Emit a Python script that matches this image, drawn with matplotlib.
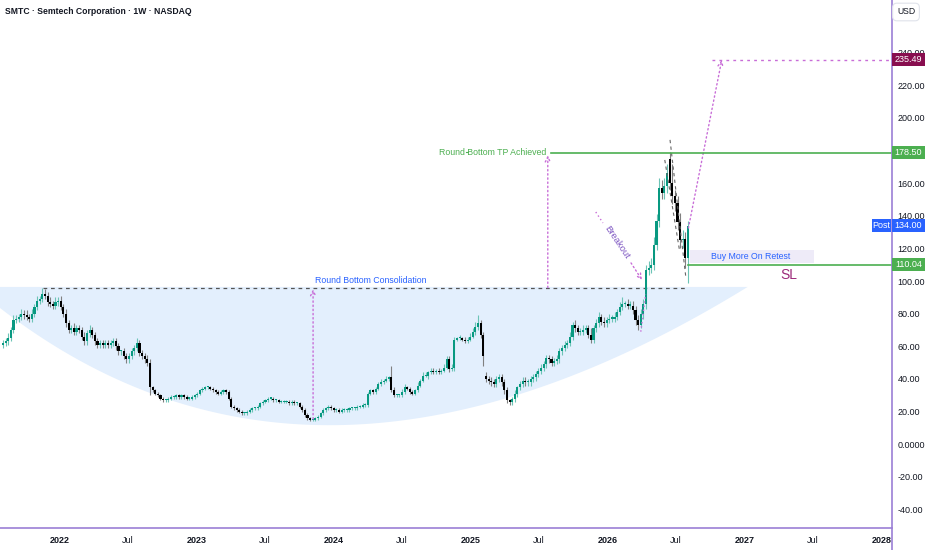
import numpy as np
import pandas as pd
import matplotlib
matplotlib.use("Agg")
import matplotlib.pyplot as plt
import matplotlib.dates as mdates
from matplotlib.patches import Rectangle, Polygon
from matplotlib.lines import Line2D
from matplotlib import transforms

plt.rcParams['font.family'] = ['Liberation Sans', 'DejaVu Sans']

# weekly closes (first candle week of 2021-08-02)
closes = [
    62, 63, 65, 70, 76, 77, 78, 80, 79, 78, 77, 80, 84, 88, 89, 92, 91, 87, 86, 85,
    87, 88, 84, 80, 74, 70, 71, 69, 71, 70, 66, 63, 68, 70, 67, 63, 61, 62, 61, 62,
    61, 62, 63, 60, 57, 57, 54, 52, 54, 57, 59, 62, 56, 54, 52, 50, 35, 33, 31, 30,
    28, 27, 27, 28, 29, 29, 30, 29, 30, 29, 28, 28, 29, 30, 31, 33, 34, 35, 35, 34,
    33, 32, 31, 32, 33, 32, 28, 23, 22, 21, 20, 19, 19, 20, 21, 22, 22, 23, 25, 26,
    27, 28, 28, 27, 27, 26, 26, 26, 26, 25, 26, 25, 25, 23, 21, 18, 16, 15, 15, 16,
    17, 19, 21, 22, 23, 22, 21, 21, 20, 21, 21, 21, 22, 22, 22, 23, 23, 24, 24, 31,
    33, 32, 34, 37, 38, 39, 40, 41, 33, 30, 30, 30, 32, 35, 34, 32, 31, 33, 36, 39,
    42, 42, 44, 45, 44, 45, 44, 45, 47, 52, 46, 47, 64, 65, 65, 64, 63, 64, 66, 69,
    72, 74, 67, 54, 40, 39, 38, 37, 40, 41, 38, 33, 27, 26, 28, 31, 35, 37, 39, 38,
    38, 40, 41, 43, 45, 47, 49, 53, 52, 50, 51, 52, 57, 59, 61, 62, 66, 73, 71, 69,
    69, 70, 71, 67, 64, 71, 74, 78, 75, 74, 76, 77, 77, 78, 81, 84, 86, 86, 85, 85,
    82, 76, 73, 80, 86, 107, 108, 110, 122, 137, 157, 154, 158, 166, 160, 152, 148, 136, 125, 126,
    114, 134,
]
up_wick = [
    2, 2, 3, 2, 3, 2, 2, 3, 2, 3, 2, 3, 2, 3, 2, 4, 3, 2, 3, 2,
    3, 2, 3, 2, 3, 2, 2, 3, 2, 2, 2, 3, 2, 3, 2, 2, 2, 2, 2, 2,
    2, 2, 2, 2, 2, 1, 2, 2, 2, 2, 2, 3, 2, 2, 2, 3, 2, 1, 1, 1,
    1, 1, 1, 1, 1, 1, 1, 1, 1, 1, 1, 1, 1, 1, 1, 1, 1, 1, 1, 1,
    1, 1, 1, 1, 1, 1, 1, 1, 1, 1, 1, 1, 1, 1, 1, 1, 1, 1, 1, 1,
    1, 1, 1, 1, 1, 1, 1, 1, 1, 1, 1, 1, 1, 1, 1, 1, 1, 1, 1, 1,
    1, 1, 1, 1, 1, 1, 1, 1, 1, 1, 1, 1, 1, 1, 1, 1, 1, 1, 1, 1,
    1, 1, 1, 1, 2, 1, 2, 1, 7, 2, 1, 1, 2, 2, 1, 1, 1, 1, 2, 1,
    2, 2, 1, 2, 2, 1, 2, 1, 2, 2, 2, 2, 2, 1, 2, 1, 2, 2, 2, 2,
    3, 5, 2, 2, 2, 2, 2, 2, 2, 2, 2, 2, 2, 1, 1, 2, 1, 2, 2, 2,
    2, 2, 2, 2, 2, 2, 2, 2, 2, 2, 2, 3, 2, 2, 2, 2, 3, 2, 3, 2,
    2, 3, 2, 2, 4, 2, 3, 3, 2, 3, 2, 3, 2, 3, 2, 3, 4, 2, 3, 3,
    3, 3, 3, 3, 3, 3, 4, 4, 5, 4, 6, 5, 5, 6, 4, 12, 4, 4, 6, 5,
    4, 3,
]
down_wick = [
    2, 2, 2, 2, 2, 2, 2, 2, 2, 2, 2, 2, 2, 2, 2, 2, 2, 2, 2, 2,
    2, 2, 2, 2, 2, 2, 2, 2, 2, 2, 2, 2, 2, 2, 2, 2, 2, 2, 2, 2,
    2, 2, 2, 2, 2, 2, 2, 2, 2, 2, 2, 2, 2, 2, 2, 2, 5, 1, 1, 1,
    1, 1, 1, 1, 1, 1, 1, 1, 1, 1, 1, 1, 1, 1, 1, 1, 1, 1, 1, 1,
    1, 1, 1, 1, 1, 1, 1, 1, 1, 1, 1, 1, 1, 1, 1, 1, 1, 1, 1, 1,
    1, 1, 1, 1, 1, 1, 1, 1, 1, 1, 1, 1, 1, 1, 1, 1, 1, 1, 1, 1,
    1, 1, 1, 1, 1, 1, 1, 1, 1, 1, 1, 1, 1, 1, 1, 1, 1, 1, 1, 1,
    1, 1, 1, 1, 1, 1, 1, 1, 1, 1, 1, 1, 1, 1, 1, 1, 1, 1, 1, 1,
    1, 1, 2, 1, 1, 1, 1, 1, 1, 1, 2, 1, 2, 1, 1, 1, 1, 1, 1, 1,
    2, 2, 2, 6, 2, 2, 2, 2, 2, 2, 2, 2, 2, 2, 2, 2, 2, 2, 2, 2,
    2, 2, 2, 2, 2, 2, 2, 2, 2, 2, 2, 2, 2, 2, 2, 2, 2, 2, 2, 2,
    2, 2, 2, 2, 2, 2, 2, 2, 2, 2, 2, 2, 2, 2, 2, 2, 2, 2, 2, 2,
    2, 3, 3, 2, 3, 3, 3, 3, 3, 3, 4, 4, 4, 4, 4, 5, 5, 5, 5, 5,
    6, 15,
]
first_open = 61
gap_opens = {184: 42, 254: 175}

tp_level = 178.50
target_level = 235.49
sl_level = 110.04
last_price = 134.00
neck_level = 96

ytick_vals = [-40, -20, 0, 20, 40, 60, 80, 100, 120, 140, 160, 200, 220, 240]
xtick_dates = ['2022-01-01', '2022-07-01', '2023-01-01', '2023-07-01', '2024-01-01',
               '2024-07-01', '2025-01-01', '2025-07-01', '2026-01-01', '2026-07-01',
               '2027-01-01', '2027-07-01', '2028-01-01']
xtick_labels = ['2022', 'Jul', '2023', 'Jul', '2024', 'Jul', '2025', 'Jul', '2026', 'Jul',
                '2027', 'Jul', '2028']

dates = pd.date_range('2021-08-02', periods=len(closes), freq='7D')
xs = mdates.date2num(dates)
c = np.array(closes, float)
o = np.r_[first_open, c[:-1]]
for k, v in gap_opens.items():
    o[k] = v
hi = np.maximum(o, c) + np.array(up_wick)
lo = np.minimum(o, c) - np.array(down_wick)
up = c >= o

def d(s):
    return mdates.date2num(pd.Timestamp(s))

fig = plt.figure(figsize=(9.32, 5.5), dpi=100)
fig.patch.set_facecolor('white')
ax = fig.add_axes([0, 22 / 550, 892 / 932, 528 / 550])
ax.set_xlim(d('2021-07-25'), d('2028-01-29'))
ax.set_ylim(-51.3, 272.2)
for s in ax.spines.values():
    s.set_visible(False)

# round bottom shading (quadratic arc)
p0 = np.array([d('2021-07-25'), 83.5])
p1 = np.array([d('2023-11-14'), -66.3])
p2 = np.array([d('2027-01-09'), 96.4])
t = np.linspace(0, 1, 200)[:, None]
arc = (1 - t) ** 2 * p0 + 2 * t * (1 - t) * p1 + t ** 2 * p2
poly = np.vstack([[p0[0] - 40, 96.4], [p2[0], 96.4], arc[::-1], [p0[0] - 40, p0[1] + 5]])
ax.add_patch(Polygon(poly, closed=True, fc='#e3effd', ec='none', zorder=1))

# neckline
ax.plot([d('2021-11-17'), d('2026-08-03')], [neck_level, neck_level], color='#555555',
        lw=0.9, ls=(0, (3, 3)), zorder=2)

# candles
body_col = np.where(up, '#089981', '#000000')
wick_col = np.where(up, '#6cc4b6', '#808080')
ax.vlines(xs, lo, hi, colors=wick_col, lw=0.8, zorder=3)
ax.bar(xs, np.maximum(np.abs(c - o), 0.7), bottom=np.minimum(o, c), width=5.6,
       color=body_col, zorder=4, linewidth=0)

pink = '#c86dd7'
dot = (0, (1, 2))

def arrow(x0, y0, x1, y1):
    ax.annotate('', xy=(x1, y1), xytext=(x0, y0),
                arrowprops=dict(arrowstyle='->', color=pink, lw=1.0, linestyle=dot,
                                shrinkA=0, shrinkB=0, mutation_scale=9), zorder=5)

arrow(d('2023-11-07'), 15.5, d('2023-11-07'), 95)
arrow(d('2025-07-25'), 96, d('2025-07-25'), 177)
# breakout arrow, broken where its label sits
ax.plot([d('2025-11-30'), d('2025-12-19')], [142.3, 135.6], color=pink, lw=1.0, ls=dot, zorder=5)
arrow(d('2026-03-04'), 111.1, d('2026-04-02'), 100.7)
arrow(d('2026-08-04'), 132.5, d('2026-11-01'), 235.5)
ax.plot([d('2026-03-30'), d('2026-04-12')], [69, 92], color=pink, lw=1.0, ls=dot, zorder=5)
ax.plot([d('2026-10-06'), d('2028-02-10')], [target_level, target_level], color=pink,
        lw=1.0, ls=(0, (2, 3)), zorder=5)

# flag lines at the top
ax.plot([d('2026-06-16'), d('2026-07-28')], [186.5, 102.6], color='#666666', lw=0.8,
        ls=(0, (3, 3)), zorder=5)
ax.plot([d('2026-06-02'), d('2026-07-12')], [174.2, 117.8], color='#666666', lw=0.8,
        ls=(0, (3, 3)), zorder=5)

green = '#4caf50'
ax.plot([d('2025-08-03'), d('2028-02-10')], [tp_level, tp_level], color=green, lw=1.2, zorder=5)
ax.plot([d('2026-08-03'), d('2028-02-10')], [sl_level, sl_level], color=green, lw=1.2, zorder=5)

ax.add_patch(Rectangle((d('2026-08-08'), 111.1), d('2027-07-05') - d('2026-08-08'), 8.0,
                       fc='#eeebf8', ec='none', zorder=2))
ax.text(d('2027-01-17'), 115.2, 'Buy More On Retest', color='#2962ff', fontsize=6.3,
        ha='center', va='center', zorder=6)
ax.text(d('2027-04-29'), 103.5, 'SL', color='#9c2a7a', fontsize=10, ha='center',
        va='center', zorder=6)
ax.text(d('2023-11-12'), 100.5, 'Round Bottom Consolidation', color='#2962ff', fontsize=6.3,
        ha='left', va='center', zorder=6)
ax.text(d('2025-07-22'), 179, 'Round Bottom TP Achieved', color=green, fontsize=6.3,
        ha='right', va='center', zorder=6)
ax.plot([d('2024-12-20'), d('2024-12-25')], [179, 179], color=green, lw=0.8, zorder=6)
ax.text(d('2026-01-25'), 123.5, 'Breakout', color='#7e57c2', fontsize=6.8, rotation=-56,
        ha='center', va='center', rotation_mode='anchor', zorder=6)

# axes ticks
ax.set_yticks(ytick_vals)
ax.set_yticklabels(['0.0000' if v == 0 else f'{v:.2f}' for v in ytick_vals])
for lab, v in zip(ax.get_yticklabels(), ytick_vals):
    if v in (0, 100, 200):
        lab.set_fontweight('bold')
ax.yaxis.tick_right()
ax.tick_params(axis='y', length=0, pad=4, labelsize=6.5, labelcolor='#131722')
ax.set_xticks([d(s) for s in xtick_dates])
ax.set_xticklabels(xtick_labels)
for lab, s in zip(ax.get_xticklabels(), xtick_labels):
    if s != 'Jul':
        lab.set_fontweight('bold')
ax.tick_params(axis='x', length=0, pad=6, labelsize=6.5, labelcolor='#131722')

# pane borders
fig.add_artist(Line2D([892 / 932, 892 / 932], [0, 1], color='#9b7fd6', lw=1.2))
fig.add_artist(Line2D([0, 892 / 932], [22 / 550, 22 / 550], color='#9b7fd6', lw=1.2))

# price tags on the scale
tr = transforms.blended_transform_factory(fig.transFigure, ax.transData)

def tag(p, txt, col, x0=892, x1=925):
    fig.add_artist(Rectangle((x0 / 932, p - 4.0), (x1 - x0) / 932, 8.0, transform=tr,
                             fc=col, ec='none', zorder=5))
    fig.text((x0 + x1) / 2 / 932, p, txt, transform=tr, color='white', fontsize=6.5,
             ha='center', va='center', zorder=6)

tag(target_level, f'{target_level:.2f}', '#880e4f')
tag(tp_level, f'{tp_level:.2f}', green)
tag(sl_level, f'{sl_level:.2f}', green)
tag(last_price, f'{last_price:.2f}', '#2962ff')
tag(last_price, 'Post', '#2962ff', 872, 891)

fig.text(5 / 932, 1 - 12 / 550, 'SMTC · Semtech Corporation · 1W · NASDAQ', fontsize=6.2,
         fontweight='bold', color='#131722', ha='left', va='center')
fig.text(906 / 932, 1 - 12 / 550, 'USD', fontsize=6.2, color='#131722', ha='center',
         va='center', bbox=dict(boxstyle='round,pad=0.5', fc='white', ec='#e0e3eb', lw=0.8))

fig.savefig('out.png', dpi=100, facecolor='white')
